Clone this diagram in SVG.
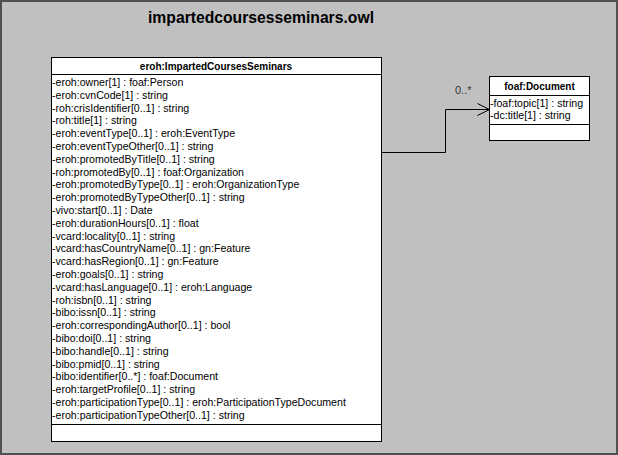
<svg xmlns="http://www.w3.org/2000/svg" width="618" height="455" viewBox="0 0 618 455">
<defs>
<style>
.frame{fill:#c0c0c0;stroke:#505050;stroke-width:2}
.box{fill:#ffffff;stroke:#000000;stroke-width:1}
.sep{stroke:#000000;stroke-width:1}
.title{font-family:"Liberation Sans",Arial,sans-serif;font-weight:bold;font-size:17px;fill:#000}
.hdr{font-family:"Liberation Sans",Arial,sans-serif;font-weight:bold;font-size:10px;fill:#000}
.attr{font-family:"Liberation Sans",Arial,sans-serif;font-size:10.6px;fill:#000}
.lbl{font-family:"Liberation Sans",Arial,sans-serif;font-size:11px;fill:#333}
.conn{fill:none;stroke:#000;stroke-width:1}
</style>
<marker id="open" markerWidth="14" markerHeight="14" refX="13" refY="7" orient="auto" markerUnits="userSpaceOnUse">
<path d="M1,1 L13,7 L1,13" fill="none" stroke="#000" stroke-width="1"/>
</marker>
</defs>
<g id="package">
<rect class="frame" x="1" y="1" width="616" height="453"/>
<text class="title" x="261" y="23" text-anchor="middle" textLength="226" lengthAdjust="spacingAndGlyphs">impartedcoursesseminars.owl</text>
</g>
<g id="connectors">
<path class="conn" d="M381.5,152.5 H445.5 V109.5 H489.5" marker-end="url(#open)"/>
<text class="lbl" x="455" y="94">0..*</text>
</g>
<g id="node-ImpartedCoursesSeminars">
<rect class="box" x="51.5" y="57.5" width="330" height="384"/>
<line class="sep" x1="51.5" y1="74.5" x2="381.5" y2="74.5"/>
<line class="sep" x1="51.5" y1="424.5" x2="381.5" y2="424.5"/>
<text class="hdr" x="216" y="69.5" text-anchor="middle">eroh:ImpartedCoursesSeminars</text>
<text class="attr" x="52">
<tspan x="52" y="86">-eroh:owner[1] : foaf:Person</tspan>
<tspan x="52" y="98.8">-eroh:cvnCode[1] : string</tspan>
<tspan x="52" y="111.6">-roh:crisIdentifier[0..1] : string</tspan>
<tspan x="52" y="124.4">-roh:title[1] : string</tspan>
<tspan x="52" y="137.2">-eroh:eventType[0..1] : eroh:EventType</tspan>
<tspan x="52" y="150">-eroh:eventTypeOther[0..1] : string</tspan>
<tspan x="52" y="162.8">-eroh:promotedByTitle[0..1] : string</tspan>
<tspan x="52" y="175.6">-roh:promotedBy[0..1] : foaf:Organization</tspan>
<tspan x="52" y="188.4">-eroh:promotedByType[0..1] : eroh:OrganizationType</tspan>
<tspan x="52" y="201.2">-eroh:promotedByTypeOther[0..1] : string</tspan>
<tspan x="52" y="214">-vivo:start[0..1] : Date</tspan>
<tspan x="52" y="226.8">-eroh:durationHours[0..1] : float</tspan>
<tspan x="52" y="239.6">-vcard:locality[0..1] : string</tspan>
<tspan x="52" y="252.4">-vcard:hasCountryName[0..1] : gn:Feature</tspan>
<tspan x="52" y="265.2">-vcard:hasRegion[0..1] : gn:Feature</tspan>
<tspan x="52" y="278">-eroh:goals[0..1] : string</tspan>
<tspan x="52" y="290.8">-vcard:hasLanguage[0..1] : eroh:Language</tspan>
<tspan x="52" y="303.6">-roh:isbn[0..1] : string</tspan>
<tspan x="52" y="316.4">-bibo:issn[0..1] : string</tspan>
<tspan x="52" y="329.2">-eroh:correspondingAuthor[0..1] : bool</tspan>
<tspan x="52" y="342">-bibo:doi[0..1] : string</tspan>
<tspan x="52" y="354.8">-bibo:handle[0..1] : string</tspan>
<tspan x="52" y="367.6">-bibo:pmid[0..1] : string</tspan>
<tspan x="52" y="380.4">-bibo:identifier[0..*] : foaf:Document</tspan>
<tspan x="52" y="393.2">-eroh:targetProfile[0..1] : string</tspan>
<tspan x="52" y="406">-eroh:participationType[0..1] : eroh:ParticipationTypeDocument</tspan>
<tspan x="52" y="418.8">-eroh:participationTypeOther[0..1] : string</tspan>
</text>
</g>
<g id="node-Document">
<rect class="box" x="489.5" y="76.5" width="100" height="64"/>
<line class="sep" x1="489.5" y1="95.5" x2="589.5" y2="95.5"/>
<line class="sep" x1="489.5" y1="124.5" x2="589.5" y2="124.5"/>
<text class="hdr" x="539.5" y="89.5" text-anchor="middle">foaf:Document</text>
<text class="attr" x="490" y="106.5">-foaf:topic[1] : string</text>
<text class="attr" x="490" y="119">-dc:title[1] : string</text>
</g>
</svg>
